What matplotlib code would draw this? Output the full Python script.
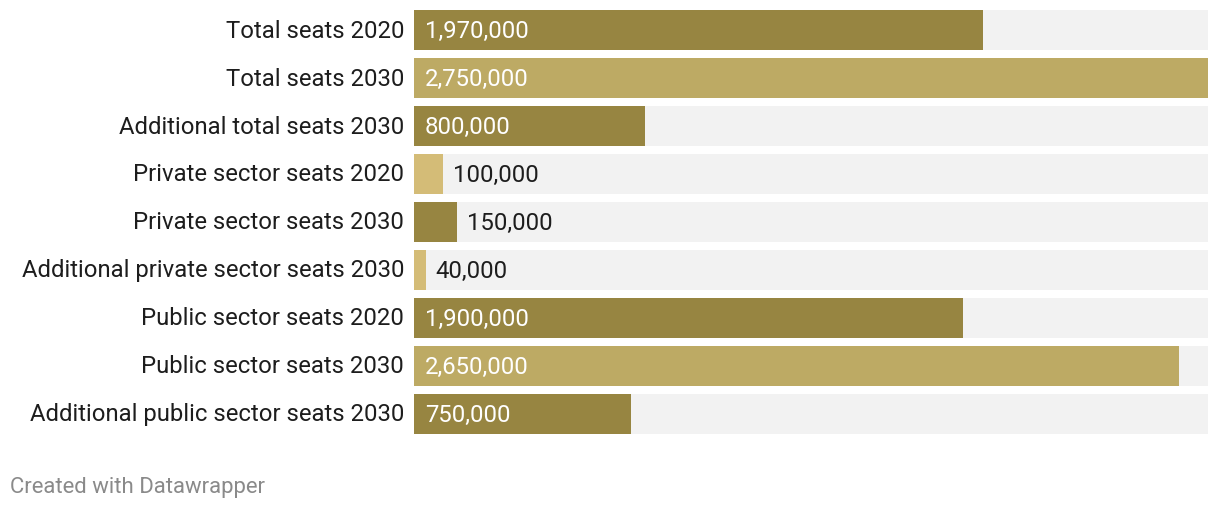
import matplotlib.pyplot as plt

# Datos
categorias = [
    'Total seats 2020',
    'Total seats 2030',
    'Additional total seats 2030',
    'Private sector seats 2020',
    'Private sector seats 2030',
    'Additional private sector seats 2030',
    'Public sector seats 2020',
    'Public sector seats 2030',
    'Additional public sector seats 2030',
]
valores = [1970000, 2750000, 800000, 100000, 150000, 40000, 1900000, 2650000, 750000]
colores = ['#978541', '#bdaa64', '#978541', '#d4bc77', '#978541',
           '#d4bc77', '#978541', '#bdaa64', '#978541']

plt.rcParams['font.family'] = ['Roboto', 'DejaVu Sans']

W, H = 1220, 510
fig = plt.figure(figsize=(W / 100, H / 100), dpi=100)
ax = fig.add_axes([414 / W, (H - 439) / H, (1208 - 414) / W, 432 / H])

xmax = max(valores)
y = list(range(len(categorias)))
alto = 0.82

# barras de fondo y barras de datos
ax.barh(y, [xmax] * len(y), height=alto, color='#f2f2f2', zorder=1)
ax.barh(y, valores, height=alto, color=colores, zorder=2)

ax.set_xlim(0, xmax)
ax.set_ylim(len(y) - 0.5, -0.5)
ax.axis('off')

px = xmax / (1208 - 414)  # valor por pixel
for i, (cat, v) in enumerate(zip(categorias, valores)):
    ax.text(-10 * px, i, cat, ha='right', va='center', fontsize=17.2, color='#1d1d1d')
    etiqueta = f'{v:,}'
    if v > 300000:
        ax.text(11 * px, i, etiqueta, ha='left', va='center', fontsize=17.2,
                color='white', zorder=3)
    else:
        ax.text(v + 10 * px, i, etiqueta, ha='left', va='center', fontsize=17.2,
                color='#1d1d1d', zorder=3)

fig.text(10 / W, 1 - 487 / H, 'Created with Datawrapper', ha='left', va='center',
         fontsize=15.9, color='#8a8a8a')

fig.savefig('out.png', dpi=100, facecolor='white')
